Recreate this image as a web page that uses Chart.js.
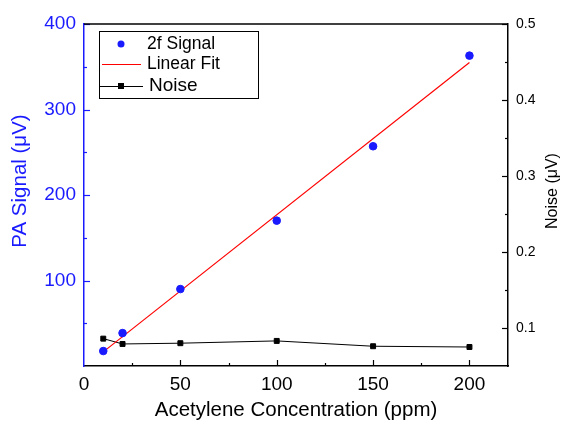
<!DOCTYPE html>
<html>
<head>
<meta charset="utf-8">
<script src="https://cdn.jsdelivr.net/npm/chart.js@4.4.1/dist/chart.umd.min.js"></script>
<style>
  html, body { margin: 0; padding: 0; background: #fff; }
  #wrap { width: 562px; height: 423px; }
</style>
</head>
<body>
<div id="wrap"><canvas id="chart"></canvas></div>
<script>
// data
const CONC = [10, 20, 50, 100, 150, 200];
const SIGNAL = [17.5, 38.5, 90, 170, 257, 363];
const NOISE = [0.086, 0.079, 0.080, 0.083, 0.076, 0.075];
const FIT_X = [10, 200];
const FIT_Y = [16.5, 355];

const X_TICKS = [0, 50, 100, 150, 200];
const X_MINOR = [25, 75, 125, 175];
const Y_TICKS = [100, 200, 300, 400];
const Y_MINOR = [50, 150, 250, 350];
const Y2_TICKS = [0.1, 0.2, 0.3, 0.4, 0.5];
const Y2_MINOR = [0.15, 0.25, 0.35, 0.45];

const BLUE = "#1a1aff";
const FONT = "'Liberation Sans', Arial, sans-serif";

const toXY = (xs, ys) => xs.map((x, i) => ({ x: x, y: ys[i] }));

// ticks pointing into the plot, plus the top frame line
const innerTicks = {
  id: "innerTicks",
  afterDatasetsDraw(chart) {
    const { ctx, chartArea: a, scales } = chart;
    ctx.save();
    ctx.lineWidth = 1.2;
    const vert = (scale, vals, len, color) => {
      ctx.strokeStyle = color;
      vals.forEach((v) => {
        const px = Math.round(scale.getPixelForValue(v)) + 0.5;
        ctx.beginPath();
        ctx.moveTo(px, a.bottom);
        ctx.lineTo(px, a.bottom - len);
        ctx.stroke();
      });
    };
    const horiz = (scale, vals, len, color, edge, dir) => {
      ctx.strokeStyle = color;
      vals.forEach((v) => {
        const py = Math.round(scale.getPixelForValue(v)) + 0.5;
        ctx.beginPath();
        ctx.moveTo(edge, py);
        ctx.lineTo(edge + dir * len, py);
        ctx.stroke();
      });
    };
    vert(scales.x, X_TICKS.slice(1), 6, "#000");
    vert(scales.x, X_MINOR, 3, "#000");
    horiz(scales.y, Y_TICKS, 6, BLUE, a.left, 1);
    horiz(scales.y, Y_MINOR, 3, BLUE, a.left, 1);
    horiz(scales.y1, Y2_TICKS, 6, "#000", a.right, -1);
    horiz(scales.y1, Y2_MINOR, 3, "#000", a.right, -1);

    ctx.strokeStyle = "#000";
    ctx.lineWidth = 1.5;
    ctx.beginPath();
    ctx.moveTo(a.left, a.top);
    ctx.lineTo(a.right, a.top);
    ctx.stroke();
    ctx.restore();
  },
};

// both y titles read bottom to top and sit a little above centre
const yTitles = {
  id: "yTitles",
  afterDraw(chart) {
    const { ctx } = chart;
    const put = (text, x, y, size, color) => {
      ctx.save();
      ctx.translate(x, y);
      ctx.rotate(-Math.PI / 2);
      ctx.font = size + "px " + FONT;
      ctx.fillStyle = color;
      ctx.textAlign = "center";
      ctx.textBaseline = "middle";
      ctx.fillText(text, 0, 0);
      ctx.restore();
    };
    put("PA Signal (\u03bcV)", 20, 181, 20.5, BLUE);
    put("Noise (\u03bcV)", 553, 191, 16, "#000");
  },
};

// boxed legend in the upper left corner
const boxLegend = {
  id: "boxLegend",
  afterDraw(chart) {
    const { ctx } = chart;
    const ds = chart.data.datasets;
    ctx.save();
    ctx.strokeStyle = "#000";
    ctx.lineWidth = 1;
    ctx.strokeRect(99.5, 31.5, 159, 67);
    ctx.textBaseline = "middle";
    ctx.fillStyle = "#000";

    // 2f Signal
    ctx.fillStyle = BLUE;
    ctx.beginPath();
    ctx.arc(121, 44, 3.5, 0, Math.PI * 2);
    ctx.fill();
    ctx.fillStyle = "#000";
    ctx.font = "17.5px " + FONT;
    ctx.fillText(ds[0].label, 147, 44);

    // Linear Fit
    ctx.strokeStyle = "red";
    ctx.lineWidth = 1.2;
    ctx.beginPath();
    ctx.moveTo(102, 64.5);
    ctx.lineTo(141, 64.5);
    ctx.stroke();
    ctx.fillText(ds[1].label, 147, 64);

    // Noise
    ctx.strokeStyle = "#000";
    ctx.lineWidth = 1;
    ctx.beginPath();
    ctx.moveTo(100, 86.5);
    ctx.lineTo(143, 86.5);
    ctx.stroke();
    ctx.fillRect(118, 83, 6, 6);
    ctx.font = "19px " + FONT;
    ctx.fillText(ds[2].label, 149, 86);
    ctx.restore();
  },
};

new Chart(document.getElementById("chart"), {
  type: "scatter",
  data: {
    datasets: [
      {
        label: "2f Signal",
        data: toXY(CONC, SIGNAL),
        yAxisID: "y",
        backgroundColor: BLUE,
        borderColor: BLUE,
        pointRadius: 3.8,
        showLine: false,
      },
      {
        label: "Linear Fit",
        data: toXY(FIT_X, FIT_Y),
        yAxisID: "y",
        borderColor: "#ff0000",
        borderWidth: 1.2,
        pointRadius: 0,
        showLine: true,
      },
      {
        label: "Noise",
        data: toXY(CONC, NOISE),
        yAxisID: "y1",
        borderColor: "#000",
        backgroundColor: "#000",
        borderWidth: 1,
        pointStyle: "rect",
        pointRadius: 3.5,
        showLine: true,
      },
    ],
  },
  options: {
    responsive: true,
    maintainAspectRatio: false,
    animation: false,
    layout: { padding: { top: 24, left: 0, right: 0, bottom: 0 } },
    plugins: {
      legend: { display: false },
      tooltip: { enabled: false },
    },
    scales: {
      x: {
        type: "linear",
        min: 0,
        max: 220,
        afterBuildTicks: (s) => { s.ticks = X_TICKS.map((v) => ({ value: v })); },
        afterFit: (s) => { s.height = 57; },
        grid: { display: false, drawTicks: false },
        border: { display: true, color: "#000", width: 1.5 },
        ticks: { color: "#000", font: { size: 19, family: FONT }, padding: 7, maxRotation: 0 },
        title: {
          display: true,
          text: "Acetylene Concentration (ppm)",
          color: "#000",
          font: { size: 20.5, family: FONT },
          padding: { top: 0, bottom: 0 },
        },
      },
      y: {
        position: "left",
        min: 0,
        max: 400,
        afterBuildTicks: (s) => { s.ticks = Y_TICKS.map((v) => ({ value: v })); },
        afterFit: (s) => { s.width = 84; },
        grid: { display: false, drawTicks: false },
        border: { display: true, color: BLUE, width: 1.5 },
        ticks: { color: BLUE, font: { size: 19, family: FONT }, padding: 8 },
      },
      y1: {
        position: "right",
        min: 0.05,
        max: 0.5,
        afterBuildTicks: (s) => { s.ticks = Y2_TICKS.map((v) => ({ value: v })); },
        afterFit: (s) => { s.width = 54; },
        grid: { display: false, drawTicks: false },
        border: { display: true, color: "#000", width: 1.5 },
        ticks: {
          color: "#000",
          font: { size: 14, family: FONT },
          padding: 8,
          callback: (v) => v.toFixed(1),
        },
      },
    },
  },
  plugins: [innerTicks, yTitles, boxLegend],
});
</script>
</body>
</html>
